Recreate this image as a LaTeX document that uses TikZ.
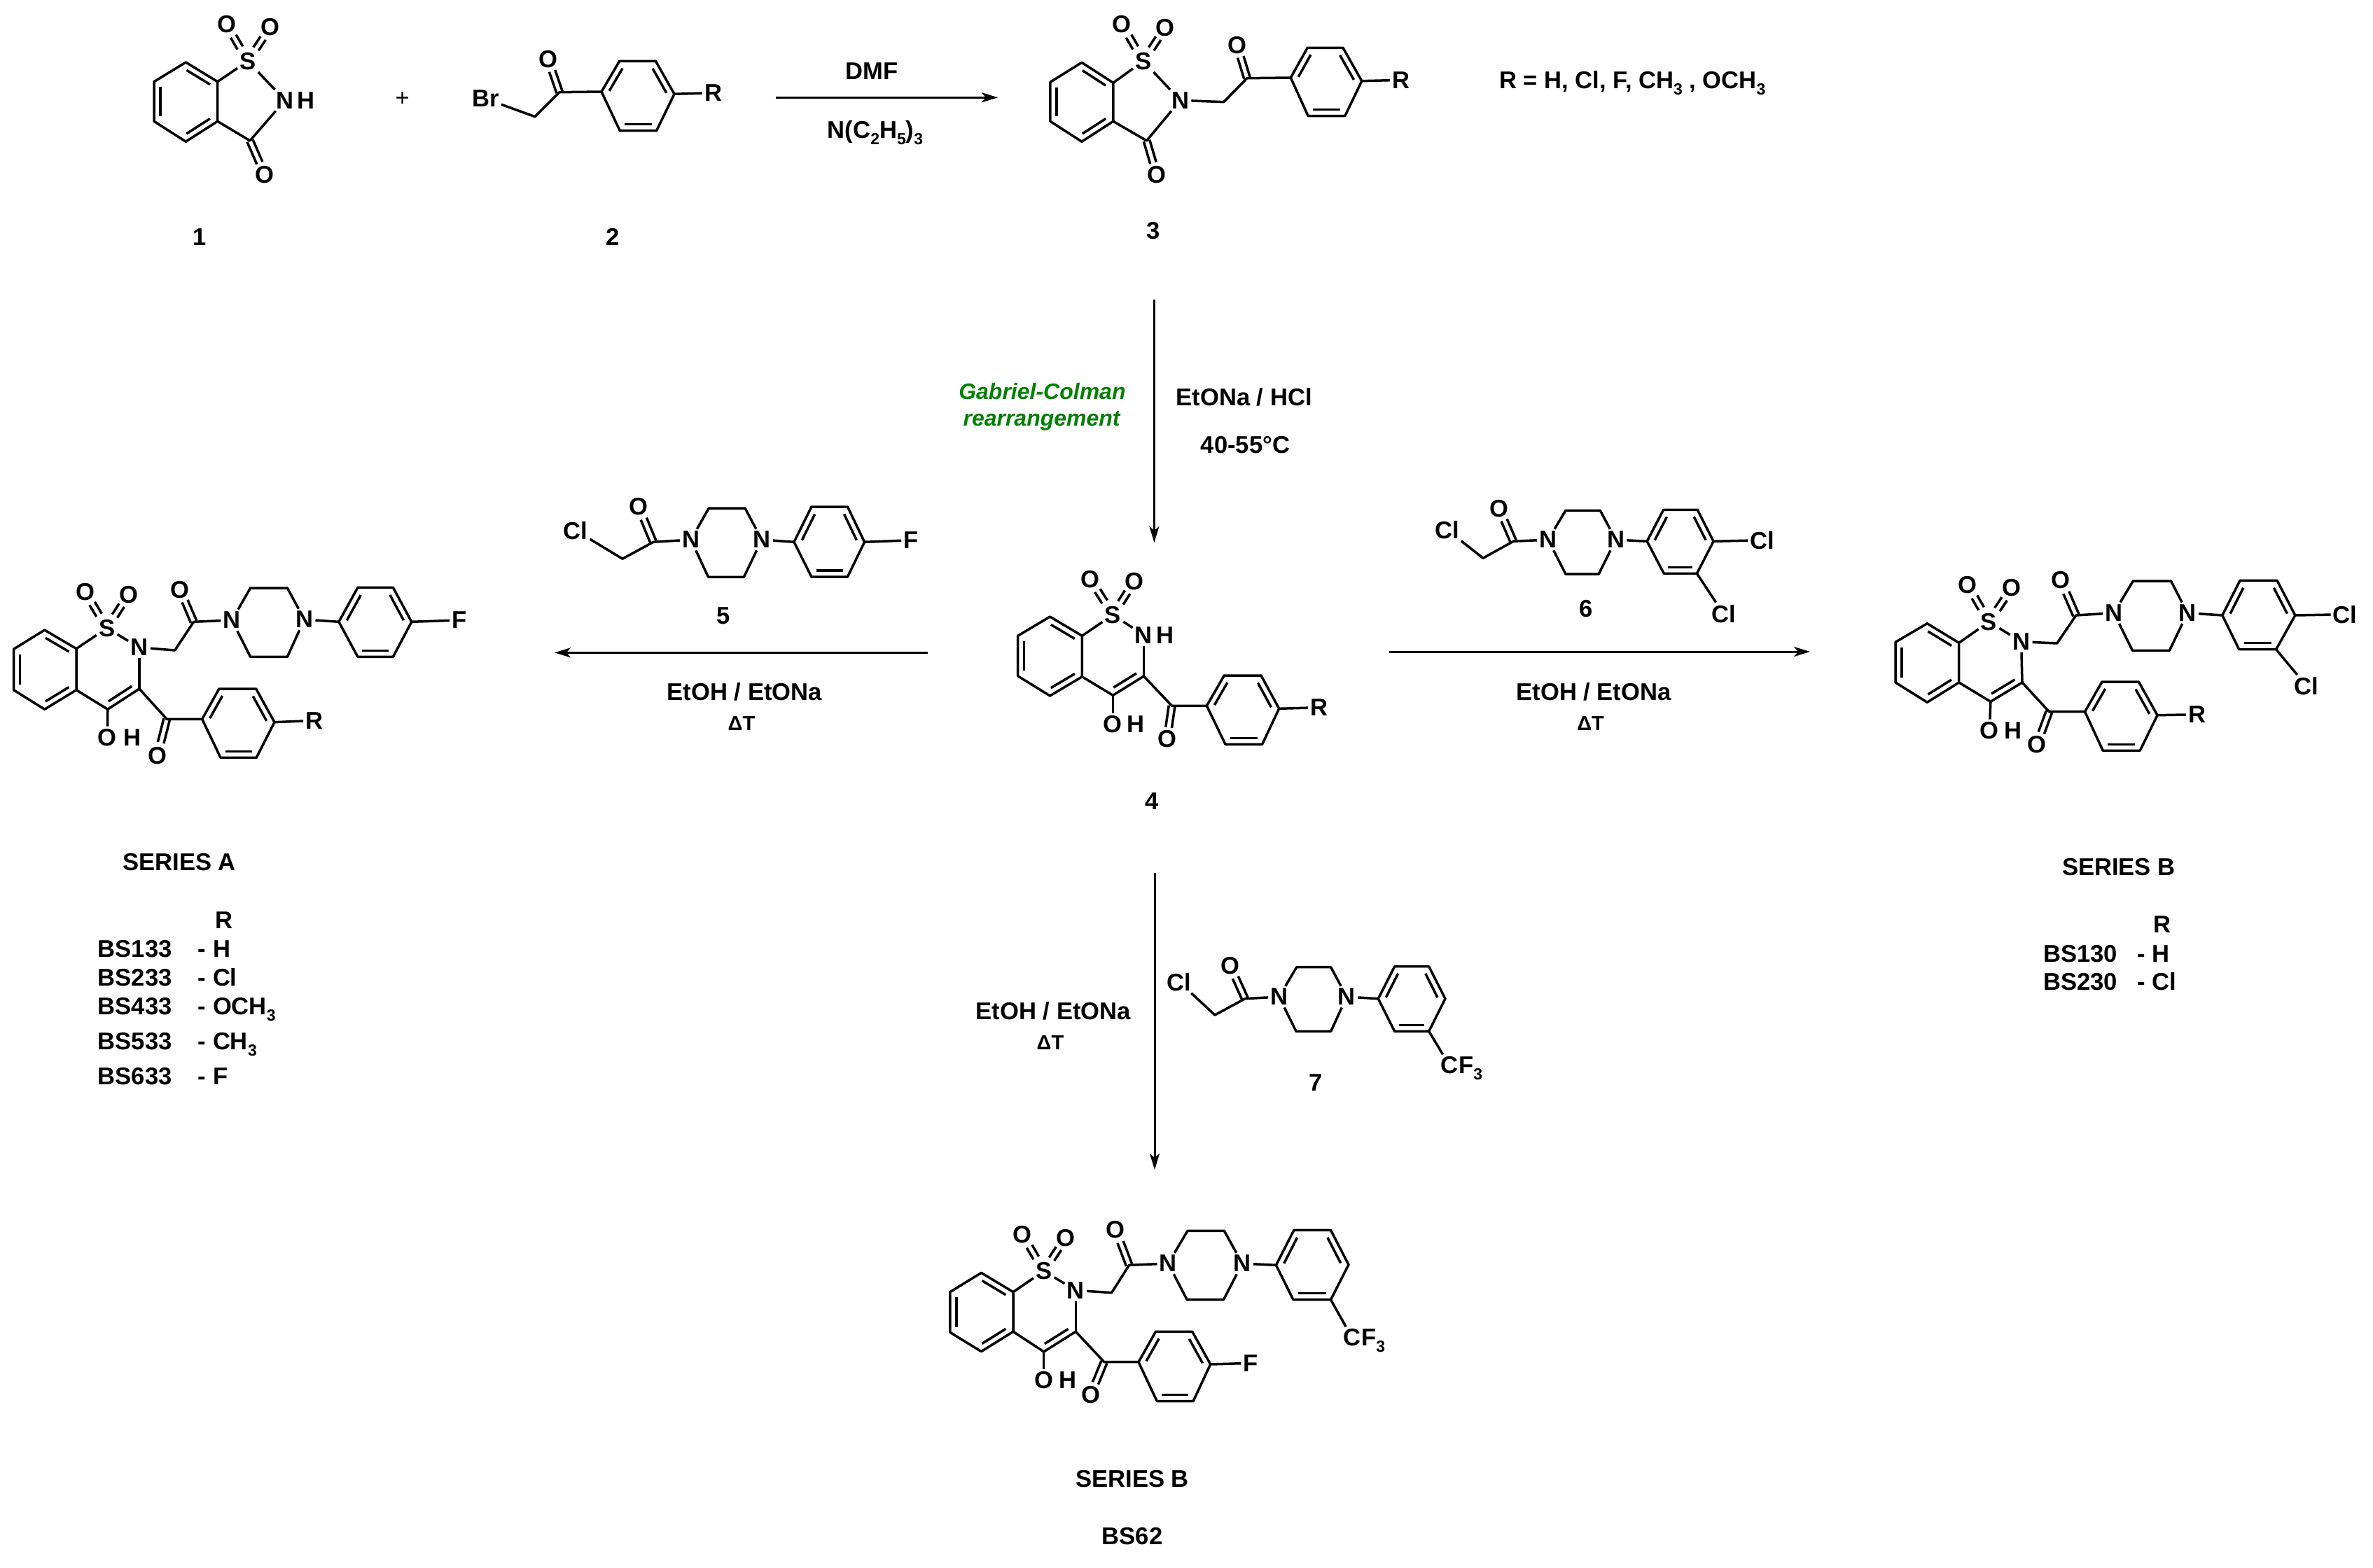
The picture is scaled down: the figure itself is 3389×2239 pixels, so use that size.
\documentclass[tikz,border=0pt]{standalone}
\usepackage{fontspec}
\setmainfont{Liberation Sans}
\usetikzlibrary{calc,arrows.meta}
\newcommand\fsz{\fontsize{17.3}{20}\selectfont\bfseries}
\newcommand\sbs[1]{\raisebox{-4.5pt}{\fontsize{11.5}{12}\selectfont\bfseries #1}}
\tikzset{
 bond/.style={line width=1.75pt,line join=round,line cap=butt,black},
 atom/.style={inner sep=1.5pt,font=\fsz,black},
 txt/.style={inner sep=0pt,font=\fsz,black,anchor=base},
 txl/.style={txt,anchor=base west},
 dlt/.style={txt,font=\fontsize{14.5}{18}\selectfont\bfseries},
 grn/.style={txt,font=\fontsize{16}{18}\selectfont\bfseries\itshape,text=green!50!black},
 rxn/.style={line width=1.5pt,-{Stealth[length=11.5pt,width=7pt,inset=3pt]}},
}
\newcommand\pts[2]{\foreach \n/\x/\y in {#2}{\coordinate (#1\n) at (\x,\y);}}
\newcommand\ats[2]{\foreach \n/\x/\y/\tx in {#2}{\node[atom] (#1\n) at (\x,\y) {\tx};}}
\newcommand\inr[2]{\draw[bond] ($(#1)!.13!(#2)!4.5pt!-90:(#2)$) -- ($(#2)!.13!(#1)!4.5pt!90:(#1)$);}
\newcommand\symd[2]{\foreach \s in {-2.2,2.2}{\draw[bond] ($(#1)!.36!(#2)!\s pt!90:(#2)$) -- ($(#1)!.68!(#2)!\s pt!90:(#2)$);}}
\newcommand\cod[2]{\foreach \s in {-2.2,2.2}{\draw[bond] ($(#1)!\s pt!90:(#2)$) -- ($(#1)!.65!(#2)!\s pt!90:(#2)$);}}
\newcommand\benzo[1]{\draw[bond] (#1t)--(#1ur)--(#1lr)--(#1b)--(#1ll)--(#1ul)--cycle;
 \inr{#1t}{#1ur}\inr{#1lr}{#1b}\inr{#1ll}{#1ul}
 \draw[bond] (#1ur)--(#1S); \draw[bond] (#1S)--(#1N);
 \symd{#1S}{#1Oa}\symd{#1S}{#1Ob}}
\newcommand\aryl[2]{\draw[bond] (#1#21)--(#1#22)--(#1#23)--(#1#24)--(#1#25)--(#1#26)--cycle;
 \inr{#1#21}{#1#22}\inr{#1#23}{#1#24}\inr{#1#25}{#1#26}}
\newcommand\thz[1]{\benzo{#1}
 \draw[bond] (#1N)--(#1Ca); \draw[bond] (#1Ca)--(#1Cb)--(#1lr);
 \inr{#1Ca}{#1Cb}
 \draw[bond] (#1Cb)--(#1OH);
 \draw[bond] (#1Ca)--(#1K)--(#1p1);
 \cod{#1K}{#1Ko}
 \aryl{#1}{p}
 \draw[bond] (#1p4)--(#1R);}
\newcommand\ppz[2]{\draw[bond] (#2)--(#1CH)--(#1CO)--(#1Na);
 \cod{#1CO}{#1O}
 \draw[bond] (#1Na)--(#1ru)--(#1rv)--(#1Nb)--(#1rw)--(#1rx)--(#1Na);
 \draw[bond] (#1Nb)--(#1q1);
 \aryl{#1}{q}}
\begin{document}
\begin{tikzpicture}[x=0.5pt,y=-0.5pt]
\useasboundingbox (0,0) rectangle (3389,2239);
%%% compound 1
\pts{c}{t/265.4/89, ur/310.7/116.7, lr/310.7/173.3, b/265.4/202.3, ll/220/173.3, ul/220/116.7, K/357/201}
\ats{c}{S/354/87.3/S, N/407/143.3/N, H/437/143.3/H, Oa/323.5/35/O, Ob/386/39/O, Ko/378.3/250/O}
\benzo{c}
\draw[bond] (cN)--(cK)--(clr); \cod{cK}{cKo}
\node[atom,font=\fontsize{17.3}{20}\selectfont] (plus) at (574.7,141.7) {+};
%%% compound 2
\pts{d}{CH/764/166.7, K/799/131.7, p1/859/131, p2/884.7/87.3, p3/936.4/87.3, p4/963/134.3, p5/937.6/186.7, p6/885.3/186.7}
\ats{d}{Br/693.4/141/Br, Ko/783/85/O, R/1018.6/132.7/R}
\draw[bond] (dBr)--(dCH)--(dK)--(dp1); \cod{dK}{dKo}
\aryl{d}{p} \draw[bond] (dp4)--(dR);
%%% compound 3
\pts{e}{t/1544.9/89.3, ur/1589.8/118.3, lr/1589.8/173.3, b/1544.9/202.3, ll/1499.9/173.3, ul/1499.9/117.3, K/1637.6/201, CH/1747.7/145.7, L/1781/111.7, p1/1843.3/111, p2/1867.2/68.3, p3/1918/68.3, p4/1944.8/115.7, p5/1920.8/165.7, p6/1868.2/165.7}
\ats{e}{S/1632.8/87.3/S, N/1685.5/143.3/N, Oa/1602.2/35/O, Ob/1664.4/39.3/O, Ko/1652/250/O, Lo/1766.8/65/O, R/2001/114.3/R}
\benzo{e}
\draw[bond] (eN)--(eK)--(elr); \cod{eK}{eKo}
\draw[bond] (eN)--(eCH)--(eL)--(ep1); \cod{eL}{eLo}
\aryl{e}{p} \draw[bond] (ep4)--(eR);
%%% compound 4
\pts{f}{t/1499.5/881, ur/1545.4/908.3, lr/1545.4/966.7, b/1499.5/994, ll/1453.6/965.7, ul/1453.6/908.3, Ca/1633.4/966, Cb/1589.4/993.3, K/1673.6/1008.3, p1/1723.4/1008.3, p2/1748.3/965, p3/1801/965, p4/1826.7/1012.3, p5/1802.6/1063.3, p6/1750/1063.3}
\ats{f}{S/1589.4/878.3/S, N/1633.4/907.3/N, H/1664/907.3/H, Oa/1557/827.3/O, Ob/1620/830.7/O, OH/1589.4/1035/O, HH/1622/1035/H, Ko/1666.7/1056/O, R/1884/1010.7/R}
\thz{f}
%%% series A
\pts{a}{t/63.7/900, ur/109/926.7, lr/109/985.7, b/63.7/1013.3, ll/19.5/985.7, ul/19.5/927.3, Ca/199/984, Cb/153.8/1013.3, K/238.2/1027.3, p1/288.7/1027.3, p2/312.9/984, p3/365.7/984, p4/392/1031.7, p5/366.2/1082.3, p6/315/1082.3, CH/249.7/929, CO/276.7/888.3, ru/357.6/840, rv/410.4/840, rw/410.4/938.3, rx/357.6/938.3, q1/483.9/888.3, q2/510.9/839.3, q3/561.4/839.3, q4/587.8/888.3, q5/561.4/938.3, q6/510.9/938.3}
\ats{a}{S/152.7/897.3/S, N/199/925/N, Oa/121.7/845.7/O, Ob/183.7/849.3/O, OH/153.3/1053.3/O, HH/189.4/1053.3/H, Ko/225/1079.3/O, R/449/1029.3/R, O/257.2/842.7/O, Na/331.2/886/N, Nb/434.6/885/N, F/656.1/886/F}
\thz{a}\ppz{a}{aN}\draw[bond] (aq4)--(aF);
%%% series B right
\pts{g}{t/2752.3/890.7, ur/2797.6/918.3, lr/2797.6/975, b/2752.3/1003.3, ll/2707/975, ul/2707/917.3, Ca/2888/975, Cb/2842.8/1002.3, K/2926.4/1016.7, p1/2977.5/1016.7, p2/3002/974, p3/3054.4/974, p4/3081/1021.7, p5/3056.2/1072.3, p6/3003.3/1072.3, CH/2937.7/919, CO/2964.9/879, ru/3046.3/830, rv/3100.5/830, rw/3098.3/929.3, rx/3045.4/929.3, q1/3173.8/879, q2/3199/829.3, q3/3252/829.3, q4/3277.8/879, q5/3250.6/927.7, q6/3197.7/927.7}
\ats{g}{S/2840.5/888.3/S, N/2886.6/916.7/N, Oa/2810.2/836/O, Ob/2873/840/O, OH/2841.4/1043.3/O, HH/2875.3/1043.3/H, Ko/2909.3/1063.3/O, R/3137.6/1020.7/R, O/2943.2/829/O, Na/3019/875.7/N, Nb/3124/875.7/N, Cla/3349.2/877.7/Cl, Clb/3294/980/Cl}
\thz{g}\ppz{g}{gN}\draw[bond] (gq4)--(gCla); \draw[bond] (gq5)--(gClb);
%%% BS62
\pts{b}{t/1401.4/1818.3, ur/1447/1845.7, lr/1447/1902.3, b/1401.4/1930.7, ll/1356.8/1903.3, ul/1356.8/1845.7, Ca/1536.3/1902.3, Cb/1490.7/1931, K/1576.9/1945.7, p1/1626/1945.7, p2/1650.5/1902.3, p3/1702.8/1902.3, p4/1728.7/1949, p5/1704.1/2001.7, p6/1652.3/2001.7, CH/1587.6/1846.7, CO/1612.6/1807.3, ru/1696/1758.3, rv/1748.3/1758.3, rw/1747.4/1856.7, rx/1695.2/1856.7, q1/1822.4/1807.3, q2/1847.9/1757.3, q3/1900.5/1757.3, q4/1926/1806.7, q5/1900.5/1856.7, q6/1847/1856.7}
\ats{b}{S/1490.7/1815.7/S, N/1536.3/1843.3/N, Oa/1460.4/1764/O, Ob/1522/1768.3/O, OH/1490.7/1971.7/O, HH/1525/1971.7/H, Ko/1557.7/1992.3/O, R/1786.3/1947.3/F, O/1593.4/1756.7/O, Na/1668.4/1805/N, Nb/1774.2/1805/N, C/1931/1911/C}
\thz{b}\ppz{b}{bN}\draw[bond] (bq5)--(bC);
\node[txl,xshift=-1.5pt] (bFt) at (bC.base east) {F\sbs{3}};
%%% compound 5
\pts{h}{CH/889/798.3, CO/933/774.3, ru/1012.3/726, rv/1064/726, rw/1062.4/824.3, rx/1011.5/824.3, q1/1134/774.3, q2/1158.9/724, q3/1210.5/724, q4/1234.6/774.3, q5/1210.5/824, q6/1158.9/824}
\ats{h}{Cl/822/757.7/Cl, O/912/723.3/O, Na/986.7/771/N, Nb/1088/771/N, F/1301.2/771.7/F}
\ppz{h}{hCl}\draw[bond] (hq4)--(hF);
%%% compound 6
\pts{i}{CH/2118/797.3, CO/2161.3/773.3, ru/2235.9/729.3, rv/2285.3/729.3, rw/2283.3/820, rx/2235.9/820, q1/2352.2/773.3, q2/2375.6/728.3, q3/2424.2/728.3, q4/2447.1/773.3, q5/2423.4/819.3, q6/2376.3/819.3}
\ats{i}{Cl/2066.4/756.7/Cl, O/2141/726.7/O, Na/2211/771/N, Nb/2307.5/771/N, Cla/2516.8/771.7/Cl, Clb/2461.3/876.7/Cl}
\ppz{i}{iCl}\draw[bond] (iq4)--(iCla); \draw[bond] (iq5)--(iClb);
%%% compound 7
\pts{j}{CH/1735/1450, CO/1778/1426.7, ru/1851.7/1381.7, rv/1900.7/1381.7, rw/1900.7/1473.3, rx/1851/1473.3, q1/1968.3/1426.7, q2/1991.7/1380.7, q3/2040.7/1380.7, q4/2064/1426.7, q5/2040.7/1473.3, q6/1991.7/1473.3}
\ats{j}{Cl/1684/1402.7/Cl, O/1757/1380/O, Na/1826.7/1424/N, Nb/1923.3/1424/N, C/2070/1522/C}
\ppz{j}{jCl}\draw[bond] (jq5)--(jC);
\node[txl,xshift=-1.5pt] (jFt) at (jC.base east) {F\sbs{3}};
%%% arrows
\coordinate (ar1a) at (1107.7,139.3); \coordinate (ar1b) at (1425,139.3);
\coordinate (ar2a) at (1648.4,428); \coordinate (ar2b) at (1648.4,775);
\coordinate (ar3a) at (1325,932.3); \coordinate (ar3b) at (792,932.3);
\coordinate (ar4a) at (1984,931); \coordinate (ar4b) at (2585,931);
\coordinate (ar5a) at (1649,1247); \coordinate (ar5b) at (1649,1671);
\draw[rxn] (ar1a)--(ar1b); \draw[rxn] (ar2a)--(ar2b); \draw[rxn] (ar3a)--(ar3b);
\draw[rxn] (ar4a)--(ar4b); \draw[rxn] (ar5a)--(ar5b);
%%% labels
\node[txt] (l1) at (285,350) {1};
\node[txt] (l2) at (875,350) {2};
\node[txt] (l3) at (1647,341.7) {3};
\node[txt] (l4) at (1645,1156.7) {4};
\node[txt] (l5) at (1033,891.7) {5};
\node[txt] (l6) at (2264.6,881.7) {6};
\node[txt] (l7) at (1879,1558.3) {7};
\node[txt] (tdmf) at (1245,113) {DMF};
\node[txt] (tnet) at (1250,197) {N(C\sbs{2}H\sbs{5})\sbs{3}};
\node[txl] (trr) at (2140.8,126.7) {R = H, Cl, F, CH\sbs{3} , OCH\sbs{3}};
\node[grn] (tg1) at (1488.4,570.7) {Gabriel-Colman};
\node[grn] (tg2) at (1487.6,608) {rearrangement};
\node[txt] (te1) at (1776.6,579.3) {EtONa / HCl};
\node[txt] (te2) at (1778.5,647.7) {40-55°C};
\node[txt] (te3) at (1063.4,1000) {EtOH / EtONa};
\node[dlt] (te4) at (1059,1043) {ΔT};
\node[txt] (te5) at (2276,1000) {EtOH / EtONa};
\node[dlt] (te6) at (2271.6,1043) {ΔT};
\node[txt] (te7) at (1504.4,1456) {EtOH / EtONa};
\node[dlt] (te8) at (1500,1499) {ΔT};
%%% series tables
\node[txl] (sa) at (175,1243.3) {SERIES A};
\node[txl] (sar) at (306.7,1326.7) {R};
\node[txl] (a1) at (139.5,1367.3) {BS133}; \node[txl] (a1r) at (282.5,1367.3) {- H};
\node[txl] (a2) at (139.5,1408.3) {BS233}; \node[txl] (a2r) at (282.5,1408.3) {- Cl};
\node[txl] (a3) at (139.5,1449.3) {BS433}; \node[txl] (a3r) at (282.5,1449.3) {- OCH\sbs{3}};
\node[txl] (a4) at (139.5,1499.3) {BS533}; \node[txl] (a4r) at (282.5,1499.3) {- CH\sbs{3}};
\node[txl] (a5) at (139.5,1549.3) {BS633}; \node[txl] (a5r) at (282.5,1549.3) {- F};
\node[txt] (sb) at (3025.8,1250.7) {SERIES B};
\node[txl] (sbr) at (3075,1332.7) {R};
\node[txl] (b1) at (2918,1374) {BS130}; \node[txl] (b1r) at (3052,1374) {- H};
\node[txl] (b2) at (2918,1414.3) {BS230}; \node[txl] (b2r) at (3052,1414.3) {- Cl};
\node[txt] (sc) at (1617,2124) {SERIES B};
\node[txt] (sd) at (1617,2206) {BS62};
\end{tikzpicture}
\end{document}
